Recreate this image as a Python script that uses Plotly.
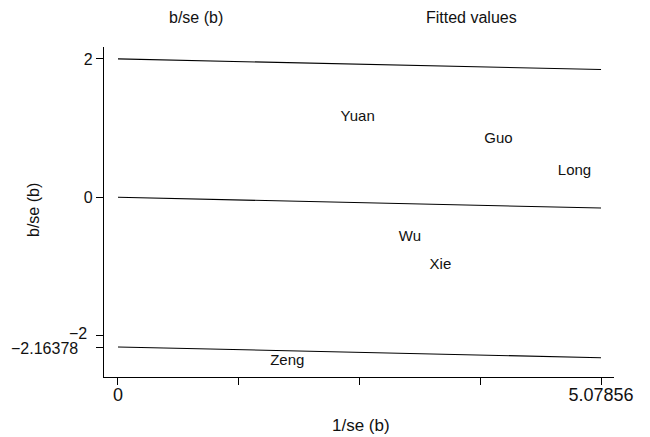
import plotly.graph_objects as go

# Study labels and their positions (1/se, b/se)
studies = ["Yuan", "Guo", "Long", "Wu", "Xie", "Zeng"]
inv_se = [2.52, 4.00, 4.80, 3.07, 3.39, 1.78]
b_over_se = [1.16, 0.84, 0.37, -0.58, -0.98, -2.37]

# Fitted lines (endpoints)
fit_x = [0, 5.07856]
fit_upper = [2.0, 1.847]
fit_mid = [0.0, -0.155]
fit_lower = [-2.16378, -2.318]

x_tickvals = [0, 1.26964, 2.53928, 3.80892, 5.07856]
x_ticktext = ["0", "", "", "", "5.07856"]
y_tickvals = [2, 0, -2, -2.16378]
y_ticktext = ["2", "0", "", ""]

FONT = "Liberation Sans, Arial, sans-serif"
L, R, T, B = 104, 36, 47, 60
W, H = 650, 437
plot_w = W - L - R
plot_h = H - T - B


def px_x(px):
    return (px - L) / plot_w


def px_y(py):
    return 1 - (py - T) / plot_h


fig = go.Figure()

fig.add_trace(go.Scatter(
    x=inv_se, y=b_over_se, mode="text", text=studies,
    textfont=dict(family=FONT, size=15, color="#111111"),
    textposition="middle center", showlegend=False, hoverinfo="skip"))

for ys in (fit_upper, fit_mid, fit_lower):
    fig.add_trace(go.Scatter(
        x=fit_x, y=ys, mode="lines",
        line=dict(color="black", width=1.1), showlegend=False))

common = dict(xref="paper", yref="paper", showarrow=False,
              xanchor="center", yanchor="middle")
annotations = [
    dict(text="b/se (b)", x=px_x(196), y=px_y(17), font=dict(size=16), **common),
    dict(text="Fitted values", x=px_x(471), y=px_y(17), font=dict(size=16), **common),
    dict(text="1/se (b)", x=px_x(361), y=px_y(425), font=dict(size=17), **common),
    dict(text="b/se (b)", x=px_x(33), y=px_y(210), textangle=-90,
         font=dict(size=16), **common),
    dict(text="\u22122", x=px_x(89), y=-2, xref="paper", yref="y",
         xanchor="right", yanchor="middle", showarrow=False, yshift=2,
         font=dict(size=16)),
    dict(text="\u22122.16378", x=px_x(80), y=-2.16378, xref="paper", yref="y",
         xanchor="right", yanchor="middle", showarrow=False, yshift=-1,
         font=dict(size=16)),
]

fig.update_layout(
    width=W, height=H,
    margin=dict(l=L, r=R, t=T, b=B),
    paper_bgcolor="white", plot_bgcolor="white",
    font=dict(family=FONT, size=16, color="#111111"),
    showlegend=False,
    xaxis=dict(range=[-0.147, 5.215], showgrid=False, zeroline=False,
               automargin=False,
               showline=True, linecolor="black", linewidth=1.1,
               ticks="outside", ticklen=7, tickcolor="black", tickwidth=1.1,
               tickvals=x_tickvals, ticktext=x_ticktext,
               ticklabelstandoff=-6,
               tickfont=dict(size=18)),
    yaxis=dict(range=[-2.597, 2.172], showgrid=False, zeroline=False,
               automargin=False,
               showline=True, linecolor="black", linewidth=1.1,
               ticks="outside", ticklen=7, tickcolor="black", tickwidth=1.1,
               tickvals=y_tickvals, ticktext=y_ticktext,
               tickfont=dict(size=16)),
    annotations=annotations,
)

fig.write_html("out.html")
